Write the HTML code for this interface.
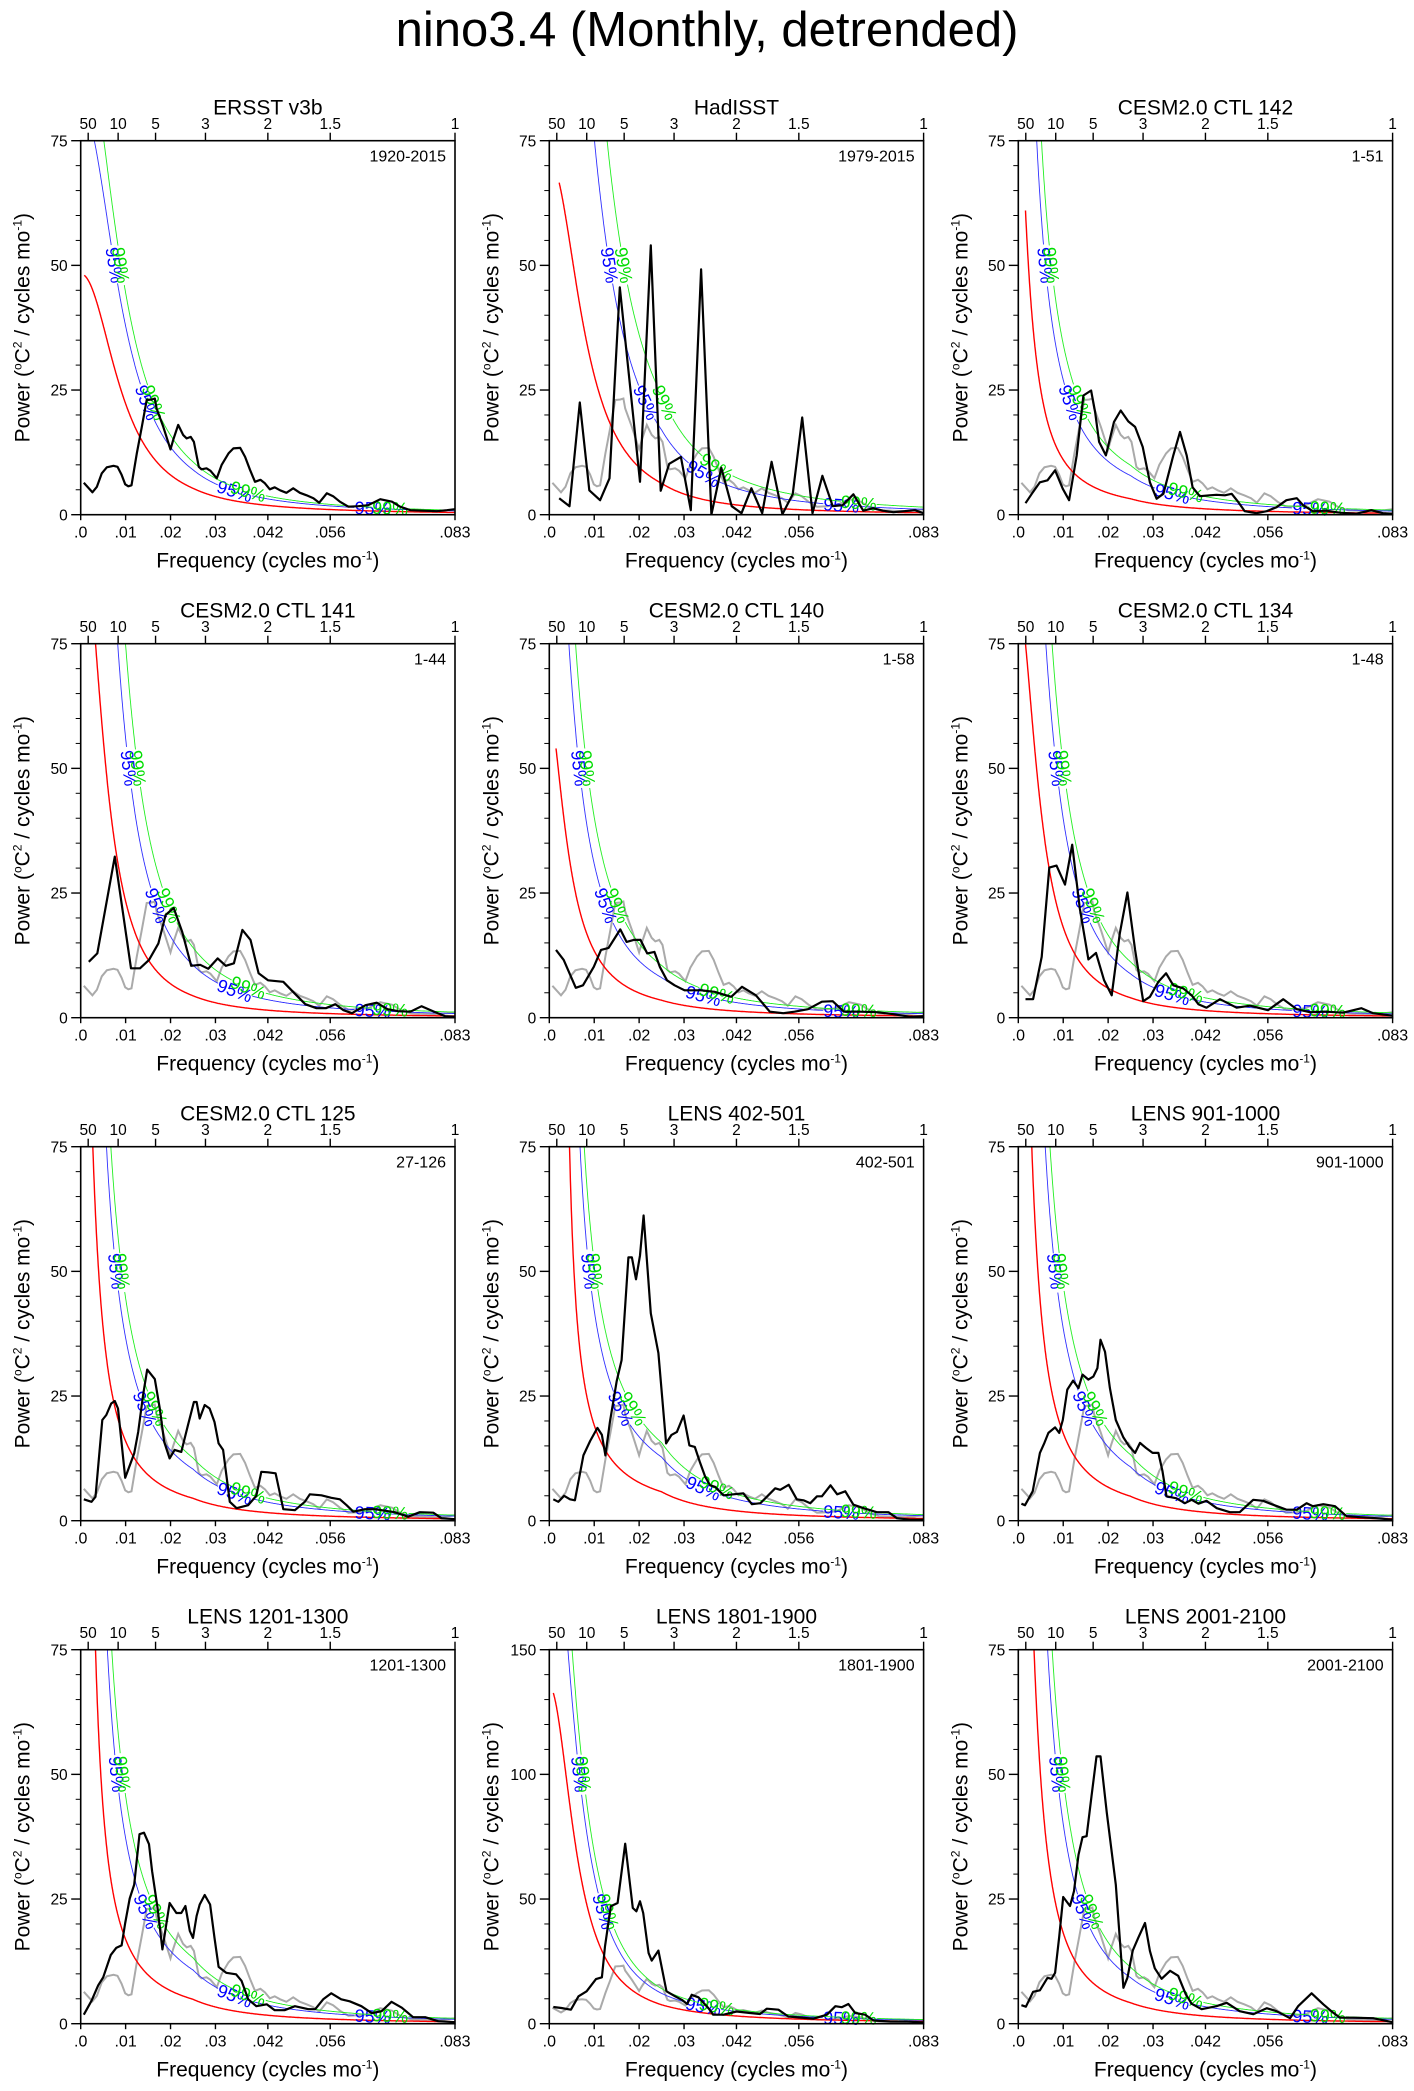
<!DOCTYPE html>
<html><head><meta charset="utf-8"><title>nino3.4 spectra</title>
<style>
html,body{margin:0;padding:0;background:#fff;}
svg{display:block;font-family:"Liberation Sans",Arial,sans-serif;}
</style></head>
<body>
<svg id="chart" width="1414" height="2091" viewBox="0 0 1414 2091" xmlns="http://www.w3.org/2000/svg">
<rect x="0" y="0" width="1414" height="2091" fill="#fff"/>
<text x="707" y="46" text-anchor="middle" font-size="49" fill="#000">nino3.4 (Monthly, detrended)</text>
</svg>
<script>
// ---------- data (frequency in cycles/mo, power in degC^2 / cycles mo^-1) ----------
const ersstFreq=[.0007,.0026,.0036,.0047,.0058,.0073,.0082,.0091,.0099,.0106,.0113,.0125,.0136,.0147,.0158,.0165,.0169,.0184,.0200,.0206,.0217,.0228,.0236,.0245,.0252,.0263,.0269,.0280,.0289,.0303,.0314,.0329,.0340,.0355,.0366,.0377,.0388,.0400,.0410,.0421,.0432,.0444,.0458,.0473,.0488,.0503,.0518,.0531,.0548,.0562,.0577,.0596,.0618,.0640,.0667,.0693,.0711,.0734,.0763,.0793,.0815,.0833];
const ersstPow=[6.4,4.5,5.6,8.3,9.5,9.8,9.6,8.0,6.1,5.7,5.9,12.3,17.6,23,23.1,23.3,21.3,17.6,13.1,15,18,16,15.3,15.6,14.6,9.6,9.1,9.3,8.8,7.3,10,12.3,13.3,13.4,11.6,9.0,6.6,7.0,6.3,5.1,5.5,4.9,4.4,5.3,4.4,3.9,3.3,2.4,4.3,3.7,2.6,1.6,1.7,1.9,3.1,2.6,1.6,0.9,0.8,0.7,0.9,1.1];
const hadFreq=[.0022,.0045,.0068,.0089,.0113,.0134,.0157,.0202,.0226,.0248,.0267,.0293,.0315,.0338,.0361,.0383,.0406,.0428,.0450,.0474,.0495,.0519,.0542,.0563,.0586,.0608,.0631,.0653,.0677,.0699,.0721,.0743,.0766,.0814,.0833];
const hadPow=[3.3,1.7,22.5,4.9,2.9,7.3,45.6,6.6,54,4.8,10.2,11.6,0.9,49.2,0,9.4,1.7,0.3,5.3,0.3,10.6,0.1,4.1,19.5,0.3,7.8,1.7,1.9,4.1,0.8,1.3,0.8,0.5,0.9,0.3];
const ctl142Freq=[.0016,.0030,.0048,.0065,.0082,.0099,.0113,.0130,.0145,.0162,.0171,.0180,.0195,.0213,.0228,.0245,.0260,.0277,.0293,.0308,.0323,.0345,.0360,.0375,.0388,.0404,.0426,.0441,.0460,.0475,.0490,.0504,.0530,.0553,.0575,.0597,.0620,.0634,.0656,.0686,.0716,.0753,.0786,.0812,.0833];
const ctl142Pow=[2.3,4.2,6.5,6.9,8.9,5.2,2.9,11.9,23.9,24.9,20.6,14.6,11.9,18.6,20.9,18.7,17.6,13.6,6.5,3.2,4.2,11.9,16.6,11.9,5.5,3.7,3.9,4.0,3.9,4.2,2.5,0.7,0.3,0.7,1.5,2.9,3.3,1.9,0.7,0.8,0.4,0.2,0.9,0.3,0.2];
const ctl141Freq=[.0018,.0037,.0076,.0112,.0132,.0152,.0173,.0189,.0207,.0226,.0246,.0266,.0284,.0305,.0323,.0341,.0360,.0378,.0396,.0417,.0451,.0476,.0500,.0525,.0546,.0567,.0585,.0604,.0634,.0659,.0683,.0707,.0734,.0759,.0787,.0811,.0833];
const ctl141Pow=[11.2,12.9,32.3,9.9,9.9,11.6,14.9,20.6,22,17.2,10.4,10.6,9.8,11.9,10.4,10.9,17.6,15.6,8.9,7.5,7.2,4.9,2.7,1.9,1.9,2.7,1.5,0.9,2.5,3.0,1.7,1.3,1.2,2.3,1.2,0.3,0.2];
const ctl140Freq=[.0015,.0032,.0059,.0075,.0099,.0115,.0132,.0158,.0172,.0188,.0203,.0218,.0234,.0246,.0262,.0279,.0301,.0338,.0368,.0405,.0429,.0460,.0491,.0521,.0546,.0576,.0607,.0631,.0656,.0692,.0729,.0766,.0802,.0833];
const ctl140Pow=[13.6,11.6,6.0,6.5,10.2,13.6,14,17.7,15.2,15.6,15.6,12.9,13.2,10.2,7.5,6.5,5.5,5.5,5.2,4.2,6.2,4.5,1.2,0.9,1.2,1.7,3.2,3.3,1.2,1.2,1.1,0.7,0.2,0.3];
const ctl134Freq=[.0016,.0033,.0052,.0069,.0085,.0104,.0120,.0137,.0156,.0173,.0191,.0208,.0226,.0243,.0260,.0278,.0293,.0312,.0329,.0345,.0367,.0386,.0401,.0419,.0449,.0486,.0516,.0556,.0590,.0620,.0649,.0686,.0723,.0764,.0790,.0833];
const ctl134Pow=[3.7,3.7,12.2,30.1,30.5,26.7,34.7,21.9,11.7,13.0,7.5,4.5,16.9,25.1,13.6,3.3,4.2,7.2,8.9,6.5,5.9,4.5,2.7,2.0,3.7,2.0,2.4,1.5,3.7,1.7,1.1,1.2,1.0,1.9,0.9,0.4];
const ctl125Freq=[.0007,.0024,.0033,.0048,.0057,.0068,.0076,.0083,.0099,.0119,.0128,.0139,.0148,.0165,.0176,.0186,.0198,.0209,.0224,.0239,.0252,.0258,.0265,.0276,.0287,.0298,.0307,.0317,.0332,.0347,.0373,.0391,.0402,.0417,.0434,.0451,.0477,.0499,.0510,.0536,.0558,.0577,.0592,.0607,.0633,.0655,.0699,.0729,.0755,.0785,.0803,.0833];
const ctl125Pow=[4.3,3.8,4.8,20.2,21.2,23.5,24.0,22.5,8.6,13.5,17.8,25.2,30.3,28.4,22.5,15.8,12.5,14.2,13.8,19.2,23.8,23.8,20.5,23.2,22.5,19.8,15.5,14.2,3.8,2.5,3.1,5.0,9.8,9.7,9.5,2.3,2.1,3.8,5.3,5.1,4.6,4.3,3.1,1.8,2.3,2.3,1.7,0.8,1.7,1.6,0.5,0.3];
const lens402Freq=[.0009,.0020,.0033,.0046,.0057,.0076,.0091,.0107,.0117,.0125,.0135,.0150,.0161,.0176,.0184,.0193,.0202,.0210,.0226,.0243,.0260,.0272,.0284,.0299,.0312,.0324,.0335,.0347,.0358,.0369,.0388,.0410,.0432,.0451,.0470,.0481,.0503,.0514,.0533,.0551,.0566,.0581,.0596,.0607,.0626,.0641,.0659,.0677,.0700,.0729,.0755,.0774,.0803,.0833];
const lens402Pow=[4.3,3.8,5.0,4.3,4.1,13.1,16.0,18.6,17.2,13.1,19.8,28.0,32.2,52.8,52.8,48.4,53.2,61.2,41.6,33.6,15.5,17.2,17.8,21.1,15.1,14.8,11.8,8.8,7.1,6.8,5.1,5.3,5.5,3.3,3.5,4.5,6.5,6.2,7.2,4.3,4.1,3.5,4.9,4.9,7.1,5.3,5.9,3.2,2.5,1.7,1.7,0.5,0.2,0.2];
const lens901Freq=[.0007,.0015,.0032,.0048,.0058,.0067,.0082,.0091,.0099,.0109,.0122,.0134,.0143,.0156,.0167,.0176,.0183,.0193,.0204,.0217,.0234,.0247,.0260,.0271,.0284,.0299,.0312,.0321,.0330,.0352,.0371,.0386,.0401,.0419,.0442,.0471,.0493,.0523,.0545,.0567,.0597,.0620,.0642,.0656,.0679,.0705,.0731,.0761,.0797,.0833];
const lens901Pow=[3.4,3.1,5.9,13.6,15.6,17.6,18.7,17.6,20.2,26.3,28.1,26.6,29.3,28.3,28.9,30.6,36.3,33.9,26.6,20.2,16.7,14.9,13.6,15.6,14.6,13.6,13.6,9.9,4.9,4.5,3.5,4.2,3.4,4.0,2.5,1.7,1.7,4.2,4.0,3.2,2.2,2.2,3.5,2.9,3.3,2.9,0.9,0.7,0.5,0.2];
const lens1201Freq=[.0007,.0024,.0039,.0050,.0067,.0079,.0091,.0099,.0109,.0119,.0131,.0141,.0152,.0159,.0171,.0182,.0198,.0213,.0224,.0233,.0243,.0250,.0258,.0265,.0276,.0288,.0298,.0307,.0324,.0346,.0358,.0373,.0391,.0414,.0432,.0454,.0477,.0507,.0522,.0540,.0558,.0580,.0599,.0625,.0648,.0670,.0692,.0715,.0740,.0767,.0796,.0833];
const lens1201Pow=[1.8,4.6,7.7,9.3,13.8,15.2,15.7,20.2,25.1,27.9,38.0,38.3,36.0,30.6,23.3,14.9,24.2,22.2,22.2,23.6,18.6,17.2,21.6,23.9,25.8,23.9,17.2,11.4,10.2,9.9,8.6,4.9,3.5,3.9,2.7,2.7,3.5,2.9,2.9,4.9,6.1,4.9,4.5,3.5,2.1,2.5,4.4,3.2,1.3,1.3,0.5,0.3];
const lens1801Freq=[.0009,.0027,.0048,.0065,.0083,.0104,.0117,.0124,.0137,.0152,.0169,.0186,.0194,.0202,.0209,.0221,.0228,.0243,.0261,.0280,.0295,.0307,.0317,.0332,.0354,.0365,.0388,.0417,.0447,.0469,.0484,.0510,.0532,.0558,.0588,.0618,.0637,.0651,.0666,.0681,.0703,.0722,.0759,.0796,.0833];
const lens1801Pow=[6.7,6.3,5.6,11.0,13.0,17.9,18.6,31.0,47.1,48.4,72.2,46.4,45.1,49.1,44.4,28.3,25.3,29.3,13.0,11.0,9.6,7.9,11.6,10.6,6.3,3.6,3.6,4.9,4.3,3.9,6.0,5.6,2.9,2.5,2.0,3.6,7.0,6.6,7.9,4.3,3.6,1.3,0.9,0.9,0.5];
const lens2001Freq=[.0007,.0017,.0033,.0048,.0065,.0074,.0082,.0091,.0100,.0115,.0124,.0134,.0143,.0152,.0163,.0174,.0183,.0197,.0217,.0234,.0243,.0255,.0267,.0282,.0293,.0304,.0319,.0338,.0356,.0373,.0386,.0408,.0441,.0464,.0493,.0523,.0553,.0575,.0605,.0623,.0653,.0679,.0697,.0716,.0746,.0790,.0833];
const lens2001Pow=[3.7,3.4,6.4,6.7,9.2,9.0,10.2,17.4,25.4,23.6,26.6,33.9,37.4,37.6,45.6,53.6,53.6,42.3,27.9,7.2,9.2,14.7,17.2,20.2,14.6,11.1,9.0,10.6,9.6,5.9,4.0,2.9,3.5,4.2,2.5,1.9,3.1,2.5,1.1,3.5,6.1,3.9,2.5,1.2,1.2,1.1,0.3];

// panel meta
const panelTitles=["ERSST v3b","HadISST","CESM2.0 CTL 142","CESM2.0 CTL 141","CESM2.0 CTL 140","CESM2.0 CTL 134","CESM2.0 CTL 125","LENS 402-501","LENS 901-1000","LENS 1201-1300","LENS 1801-1900","LENS 2001-2100"];
const panelPeriods=["1920-2015","1979-2015","1-51","1-44","1-58","1-48","27-126","402-501","901-1000","1201-1300","1801-1900","2001-2100"];
const panelYMax=[75,75,75,75,75,75,75,75,75,75,150,75];
// red-noise spectrum: anchor at low frequency, values read at f=0.005, 0.025 and 0.0833
const redAnchorF=[.0008,.0022,.0016,.0033,.0015,.0016,.0027,.0045,.0030,.0033,.0010,.0035];
const redAnchorP=[48,66.6,61,75,54,75,75,75,75,75,132,75];
const redAt005=[38,52,25,56,29,42,38.5,60,42.6,43,82,49];
const redAt025=[5.3,6.3,3.2,4.4,3.5,4.0,4.5,5.8,4.9,4.9,7.6,4.2];
const redAt083=[0.45,0.4,0.3,0.35,0.35,0.35,0.4,0.45,0.4,0.4,0.9,0.4];
const redStart=[.0008,.0022,.0016,.0018,.0015,.0016,.0008,.0009,.0008,.0008,.0009,.0008];
// confidence multipliers over red noise
const conf95=[1.7,2.7,2.45,2.4,2.3,2.2,2.3,2.2,2.2,2.2,1.6,2.2];
const conf99=[2.0,3.8,3.1,3.2,3.0,2.8,2.8,2.7,2.7,2.7,1.85,2.7];
// axes
const topPeriods=[50,10,5,3,2,1.5,1];
const topLabels=["50","10","5","3","2","1.5","1"];
const bottomTicks=[0,.01,.02,.03,1/24,1/18,1/12];
const bottomLabels=[".0",".01",".02",".03",".042",".056",".083"];

const seriesF=[ersstFreq,hadFreq,ctl142Freq,ctl141Freq,ctl140Freq,ctl134Freq,ctl125Freq,lens402Freq,lens901Freq,lens1201Freq,lens1801Freq,lens2001Freq];
const seriesP=[ersstPow,hadPow,ctl142Pow,ctl141Pow,ctl140Pow,ctl134Pow,ctl125Pow,lens402Pow,lens901Pow,lens1201Pow,lens1801Pow,lens2001Pow];

// ---------- drawing ----------
const NS='http://www.w3.org/2000/svg';
const svg=document.getElementById('chart');
function mk(tag,attrs,parent){const e=document.createElementNS(NS,tag);for(const k in attrs)e.setAttribute(k,attrs[k]);(parent||svg).appendChild(e);return e;}
const COLX=[80.7,549.3,1018.3], ROWY=[140.7,643.7,1146.7,1649.7], W=374.3, H=374, FMAX=1/12;
const defs=mk('defs',{});

function pathFrom(pts){return pts.map((p,i)=>(i?'L':'M')+p[0].toFixed(1)+' '+p[1].toFixed(1)).join('');}

// low-frequency part: 1/P = b + c f^p through three points; tail: power law to value at 1/12
function fitRed(f1,P1,f2,P2,f3,P3,P4){
  const g=p=>(1/P2-1/P1)/(Math.pow(f2,p)-Math.pow(f1,p))-(1/P3-1/P2)/(Math.pow(f3,p)-Math.pow(f2,p));
  let lo=0.3,hi=4;
  let glo=g(lo);
  for(let t=0;t<80;t++){const m=(lo+hi)/2;const gm=g(m);if((gm>0)===(glo>0)){lo=m;glo=gm;}else hi=m;}
  const p=(lo+hi)/2;
  const c=(1/P3-1/P2)/(Math.pow(f3,p)-Math.pow(f2,p));
  const b=1/P2-c*Math.pow(f2,p);
  const e=Math.log(P4/P3)/Math.log(FMAX/f3);
  return f=>f<=f3?1/Math.max(b+c*Math.pow(f,p),1e-4):P3*Math.pow(f/f3,e);
}

for(let i=0;i<12;i++){
  const x0=COLX[i%3], y0=ROWY[Math.floor(i/3)], ymax=panelYMax[i];
  const xs=f=>x0+f/FMAX*W;
  const ys=p=>y0+H-p/ymax*H;
  const g=mk('g',{});
  
  
  const cp=mk('clipPath',{id:'clip'+i},defs);
  mk('rect',{x:x0,y:y0,width:W,height:H},cp);

  const red=fitRed(redAnchorF[i],redAnchorP[i],0.005,redAt005[i],0.025,redAt025[i],redAt083[i]);
  const curves=[{fn:red,col:'#ff0000',w:1.4,name:'red-noise-curve'},
    {fn:f=>red(f)*conf95[i],col:'#3030ff',w:0.9,name:'confidence-95-curve',lab:'95%',lc:'#0000ff',fx:[.0343,.065]},
    {fn:f=>red(f)*conf99[i],col:'#22ee22',w:0.9,name:'confidence-99-curve',lab:'99%',lc:'#00dd00',fx:[.0373,.0689]}];

  if(i>0){
    const gp=mk('path',{d:pathFrom(ersstFreq.map((f,j)=>[xs(f),ys(ersstPow[j])])),fill:'none',stroke:'#aaaaaa','stroke-width':2,'clip-path':'url(#clip'+i+')'},g);
    
    
  }
  curves.forEach(c=>{
    const labels=[];
    if(c.lab){
      const targets=[ymax*0.667,ymax*0.3];
      targets.forEach(P=>{
        let lo=redStart[i],hi=FMAX;
        if(c.fn(lo)<P)return;
        for(let t=0;t<50;t++){const m=(lo+hi)/2;if(c.fn(m)>P)lo=m;else hi=m;}
        labels.push(lo);
      });
      c.fx.forEach(f=>labels.push(f));
    }
    const centers=labels.map(f=>[xs(f),ys(c.fn(f))]);
    let d='',pen=false;
    for(let f=redStart[i];f<=FMAX+1e-9;f+=0.0001){
      const X=xs(f),Y=Math.max(ys(c.fn(f)),y0-5);
      const near=centers.some(q=>Math.hypot(q[0]-X,q[1]-Y)<18);
      if(near){pen=false;continue;}
      d+=(pen?'L':'M')+X.toFixed(1)+' '+Y.toFixed(1);pen=true;
    }
    const cpth=mk('path',{d:d,fill:'none',stroke:c.col,'stroke-width':c.w,'clip-path':'url(#clip'+i+')'},g);
    
    
    labels.forEach((f,j)=>{
      const h=0.0004;
      const dx=xs(f+h)-xs(f-h), dy=ys(c.fn(f+h))-ys(c.fn(Math.max(f-h,1e-5)));
      const ang=Math.atan2(dy,dx)*180/Math.PI;
      const X=centers[j][0],Y=centers[j][1];
      if(Y<y0||Y>y0+H)return;
      const t=mk('text',{x:X,y:Y,'text-anchor':'middle',dy:'0.35em','font-size':18,fill:c.lc,transform:'rotate('+ang.toFixed(1)+' '+X.toFixed(1)+' '+Y.toFixed(1)+')'},g);
      t.textContent=c.lab;
      
      
    });
  });
  const bp=mk('path',{d:pathFrom(seriesF[i].map((f,j)=>[xs(f),ys(seriesP[i][j])])),fill:'none',stroke:'#000','stroke-width':2.2,'stroke-linejoin':'round','clip-path':'url(#clip'+i+')'},g);
  
  

  const fr=mk('rect',{x:x0,y:y0,width:W,height:H,fill:'none',stroke:'#000','stroke-width':1.6},g);
  
  
  const maj=ymax/3, mnr=ymax/15;
  for(let v=0;v<=ymax+1e-6;v+=mnr){
    const isMaj=Math.abs(v/maj-Math.round(v/maj))<1e-6;
    mk('line',{x1:x0-(isMaj?9.5:5),x2:x0,y1:ys(v),y2:ys(v),stroke:'#000','stroke-width':isMaj?1.4:1},g);
    if(isMaj){
      const t=mk('text',{x:x0-13,y:ys(v),dy:'0.36em','text-anchor':'end','font-size':15.5,fill:'#000'},g);
      t.textContent=String(Math.round(v));
      
      
    }
  }
  bottomTicks.forEach((f,j)=>{
    mk('line',{x1:xs(f),x2:xs(f),y1:y0+H,y2:y0+H+5.5,stroke:'#000','stroke-width':1.4},g);
    const t=mk('text',{x:xs(f),y:y0+H+23,'text-anchor':'middle','font-size':16,fill:'#000'},g);
    t.textContent=bottomLabels[j];
    
    
  });
  topPeriods.forEach((p,j)=>{
    const f=1/(12*p);
    mk('line',{x1:xs(f),x2:xs(f),y1:y0,y2:y0-8,stroke:'#000','stroke-width':1.4},g);
    const t=mk('text',{x:xs(f),y:y0-11.5,'text-anchor':'middle','font-size':15.5,fill:'#000'},g);
    t.textContent=topLabels[j];
    
    
  });
  const tt=mk('text',{x:x0+W/2,y:y0-26,'text-anchor':'middle','font-size':21,fill:'#000'},g);
  tt.textContent=panelTitles[i];
  
  
  const pt=mk('text',{x:x0+W-9,y:y0+21,'text-anchor':'end','font-size':16,fill:'#000'},g);
  pt.textContent=panelPeriods[i];
  
  
  const xt=mk('text',{x:x0+W/2,y:y0+H+53,'text-anchor':'middle','font-size':21,fill:'#000'},g);
  xt.innerHTML='Frequency (cycles mo<tspan dy="-8" font-size="12">-1</tspan><tspan dy="8">)</tspan>';
  
  
  const cx=x0-51, cy=y0+H/2;
  const yt=mk('text',{x:cx,y:cy,'text-anchor':'middle','font-size':21,fill:'#000',transform:'rotate(-90 '+cx+' '+cy+')'},g);
  yt.innerHTML='Power (<tspan dy="-8" font-size="12">o</tspan><tspan dy="8">C</tspan><tspan dy="-8" font-size="12">2</tspan><tspan dy="8"> / cycles mo</tspan><tspan dy="-8" font-size="12">-1</tspan><tspan dy="8">)</tspan>';
  
  
}
</script>
</body></html>
